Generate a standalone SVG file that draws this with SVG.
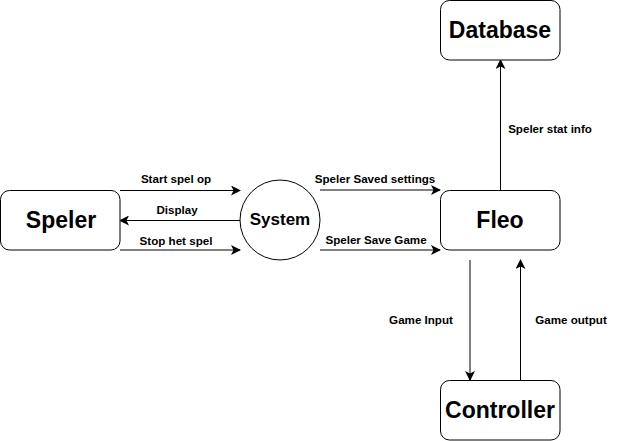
<svg xmlns="http://www.w3.org/2000/svg" width="636" height="441" viewBox="0 0 636 441">
<defs>
<marker id="ah" viewBox="0 0 10 10" refX="9" refY="5" markerWidth="10" markerHeight="10" markerUnits="userSpaceOnUse" orient="auto">
<path d="M0,0 L10,5 L0,10 L2.5,5 Z" fill="#000"/>
</marker>
</defs>
<style>
.box{fill:#fff;stroke:#000;stroke-width:1}
.big{font-family:"Liberation Sans",Arial,sans-serif;font-weight:bold;font-size:23px;text-anchor:middle;dominant-baseline:central;fill:#000}
.mid{font-family:"Liberation Sans",Arial,sans-serif;font-weight:bold;font-size:17px;text-anchor:middle;dominant-baseline:central;fill:#000}
.lbl{font-family:"Liberation Sans",Arial,sans-serif;font-weight:bold;font-size:11.6px;text-anchor:middle;dominant-baseline:central;fill:#000}
.ln{fill:none;stroke:#000;stroke-width:1;marker-end:url(#ah)}
</style>
<rect width="636" height="441" fill="#fff"/>
<g id="connectors">
<path class="ln" d="M120,190.5 L240,190.5"/>
<path class="ln" d="M240,220.5 L120,220.5"/>
<path class="ln" d="M120,250 L240,250"/>
<path class="ln" d="M320,190 L440,190"/>
<path class="ln" d="M320,250 L440,250"/>
<path class="ln" d="M500.5,190 L500.5,60"/>
<path class="ln" d="M470,260 L470,380"/>
<path class="ln" d="M520.5,380 L520.5,260"/>
<text class="lbl" x="176" y="178">Start spel op</text>
<text class="lbl" x="177" y="209">Display</text>
<text class="lbl" x="176" y="240">Stop het spel</text>
<text class="lbl" x="375" y="178">Speler Saved settings</text>
<text class="lbl" x="376" y="239">Speler Save Game</text>
<text class="lbl" x="550" y="128">Speler stat info</text>
<text class="lbl" x="421" y="319">Game Input</text>
<text class="lbl" x="571" y="319">Game output</text>
</g>
<g id="speler">
<rect class="box" x="0.5" y="190.5" width="119.5" height="59.5" rx="9"/>
<text class="big" x="61" y="220">Speler</text>
</g>
<g id="system">
<circle class="box" cx="280" cy="220" r="40"/>
<text class="mid" x="280" y="219">System</text>
</g>
<g id="fleo">
<rect class="box" x="440.5" y="190.5" width="119.5" height="59.5" rx="9"/>
<text class="big" x="500" y="220">Fleo</text>
</g>
<g id="database">
<rect class="box" x="440.5" y="0.5" width="119.5" height="59.5" rx="9"/>
<text class="big" x="500" y="30">Database</text>
</g>
<g id="controller">
<rect class="box" x="440.5" y="380.5" width="119.5" height="59.5" rx="9"/>
<text class="big" x="500" y="410">Controller</text>
</g>
</svg>
